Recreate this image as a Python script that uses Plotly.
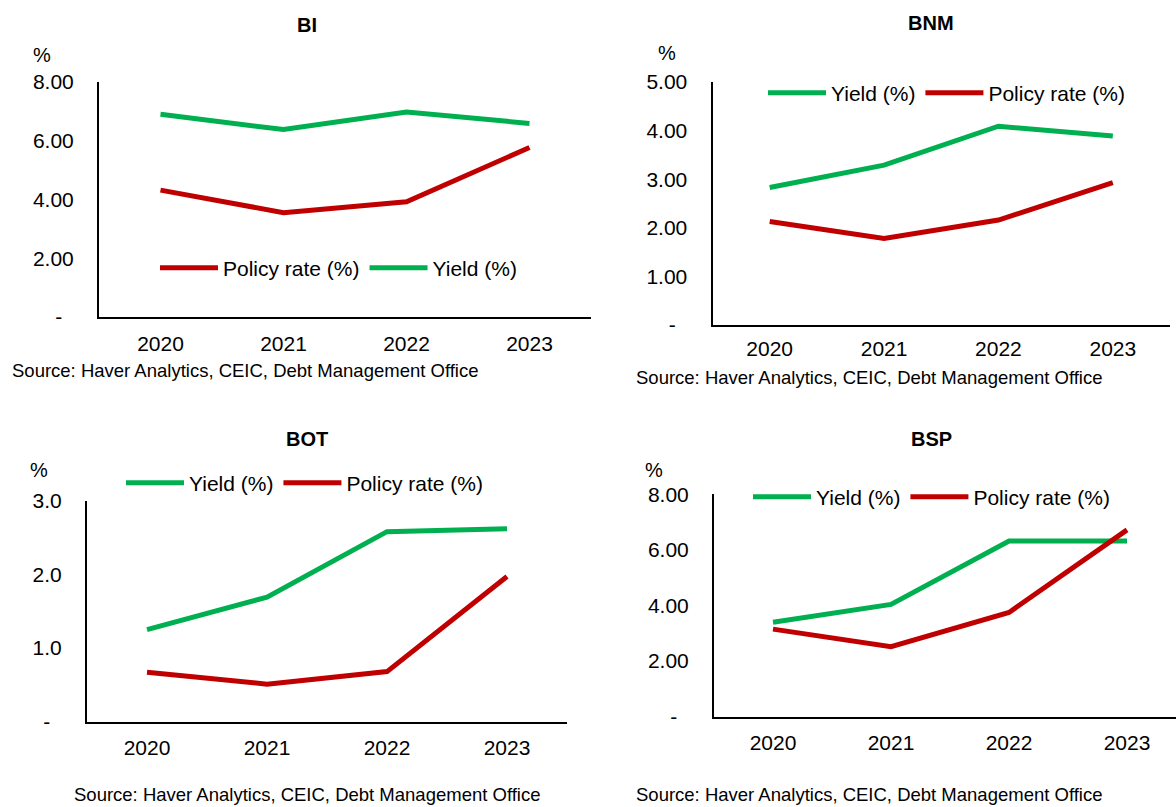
"""Policy rate vs. 10y yield for four ASEAN central banks, 2x2 panels."""

import plotly.graph_objs as go  # type: ignore

W, H = 1176, 807
FONT = "Liberation Sans, Arial, sans-serif"
GREEN = "#00B050"
RED = "#C00000"

years = ["2020", "2021", "2022", "2023"]

bi_yield = [6.90, 6.38, 6.98, 6.59]
bi_policy = [4.32, 3.55, 3.92, 5.77]

bnm_yield = [2.83, 3.29, 4.09, 3.89]
bnm_policy = [2.13, 1.78, 2.16, 2.93]

bot_yield = [1.25, 1.69, 2.58, 2.62]
bot_policy = [0.67, 0.51, 0.68, 1.97]

bsp_yield = [3.40, 4.04, 6.32, 6.32]
bsp_policy = [3.15, 2.52, 3.75, 6.72]

source = "Source: Haver Analytics, CEIC, Debt Management Office"


def px_x(x):
    return x / W


def px_y(y):
    return 1 - y / H


def add_panel(fig, n, yld, pol, x0, x1, y_top, y_bot, ymax, step, fmt,
              leg_x, leg_y, x_stand, policy_first=False, x_hi=3.5):
    """One panel: its own axes pair and its own legend."""
    xa = "x" if n == 1 else f"x{n}"
    ya = "y" if n == 1 else f"y{n}"
    leg = "legend" if n == 1 else f"legend{n}"

    green = go.Scatter(x=years, y=yld, name="Yield (%)", mode="lines",
                       line=dict(color=GREEN, width=5),
                       xaxis=xa, yaxis=ya, legend=leg)
    red = go.Scatter(x=years, y=pol, name="Policy rate (%)", mode="lines",
                     line=dict(color=RED, width=5),
                     xaxis=xa, yaxis=ya, legend=leg)
    for tr in ([red, green] if policy_first else [green, red]):
        fig.add_trace(tr)

    vals = []
    v = 0.0
    while v <= ymax + 1e-9:
        vals.append(round(v, 2))
        v += step
    text = ["-\u00a0\u00a0"] + [fmt.format(t) for t in vals[1:]]

    suffix = "" if n == 1 else str(n)
    fig.layout["xaxis" + suffix] = dict(
        domain=[px_x(x0), min(px_x(x1), 1)], anchor=ya,
        type="category", range=[-0.5, x_hi],
        showline=True, linecolor="black", linewidth=2,
        showgrid=False, zeroline=False, ticks="",
        ticklabelstandoff=x_stand,
        tickfont=dict(size=21, color="black", family=FONT),
    )
    fig.layout["yaxis" + suffix] = dict(
        domain=[px_y(y_bot), px_y(y_top)], anchor=xa,
        range=[0, ymax], tickvals=vals, ticktext=text,
        showline=True, linecolor="black", linewidth=2,
        showgrid=False, zeroline=False, ticks="",
        ticklabelstandoff=19,
        tickfont=dict(size=21, color="black", family=FONT),
    )
    fig.layout[leg] = dict(
        x=px_x(leg_x), y=px_y(leg_y), xanchor="left", yanchor="middle",
        orientation="h", bgcolor="rgba(0,0,0,0)", itemwidth=58,
        font=dict(size=21, color="black", family=FONT),
    )


fig = go.Figure()

add_panel(fig, 1, bi_yield, bi_policy, 99, 591, 82, 317, 8, 2, "{:.2f}",
          leg_x=155, leg_y=268, x_stand=7, policy_first=True)
add_panel(fig, 2, bnm_yield, bnm_policy, 712.5, 1170, 82, 325, 5, 1, "{:.2f}",
          leg_x=763, leg_y=93, x_stand=4)
add_panel(fig, 3, bot_yield, bot_policy, 87, 567, 500.7, 721.7, 3, 1, "{:.1f}",
          leg_x=121, leg_y=483, x_stand=6)
add_panel(fig, 4, bsp_yield, bsp_policy, 714, 1176, 494.3, 716.7, 8, 2, "{:.2f}",
          leg_x=748, leg_y=497, x_stand=6, x_hi=3.415)

# panel titles, "%" unit labels and source notes
notes = [
    ("<b>BI</b>", 307, 25, "center", 20),
    ("<b>BNM</b>", 931, 23, "center", 20),
    ("<b>BOT</b>", 307, 439, "center", 20),
    ("<b>BSP</b>", 931, 439, "center", 20),
    ("%", 42, 55, "center", 20),
    ("%", 667, 53, "center", 20),
    ("%", 39, 470, "center", 20),
    ("%", 654, 470, "center", 20),
    (source, 10, 370, "left", 18.5),
    (source, 634, 378, "left", 18.5),
    (source, 307, 794, "center", 18.5),
    (source, 869, 794, "center", 18.5),
]
for txt, x, y, anchor, size in notes:
    fig.add_annotation(text=txt, x=px_x(x), y=px_y(y), xref="paper",
                       yref="paper", xanchor=anchor, yanchor="middle",
                       showarrow=False,
                       font=dict(size=size, color="black", family=FONT))

fig.update_layout(
    width=W,
    height=H,
    # legends would otherwise push the margins out
    margin=dict(l=0, r=0, t=0, b=0, autoexpand=False),
    paper_bgcolor="white",
    plot_bgcolor="white",
    font=dict(family=FONT, color="black"),
)

# drop the page's default body margin so the figure sits at (0, 0)
fig.write_html("out.html", config={"displayModeBar": False},
               post_script="document.body.style.margin = '0';")
